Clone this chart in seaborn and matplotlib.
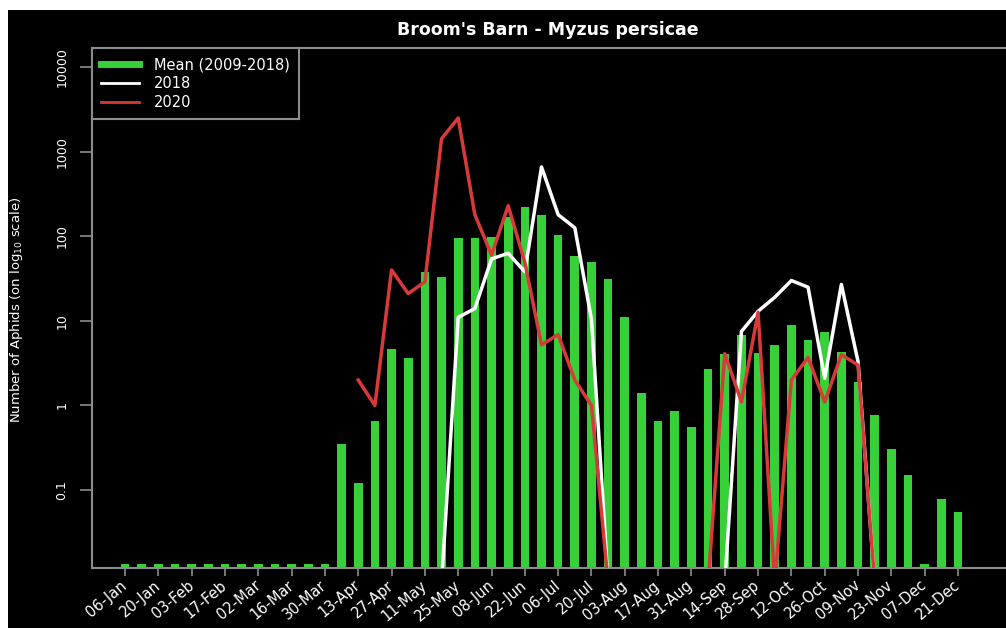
import matplotlib
matplotlib.use("Agg")
import matplotlib.pyplot as plt
import numpy as np
import pandas as pd
import seaborn as sns
from matplotlib.lines import Line2D
from matplotlib.patches import Rectangle
from matplotlib.ticker import FixedLocator, NullLocator

# weekly trap catches
weeks = [
    "06-Jan", "13-Jan", "20-Jan", "27-Jan", "03-Feb", "10-Feb", "17-Feb", "24-Feb",
    "02-Mar", "09-Mar", "16-Mar", "23-Mar", "30-Mar", "06-Apr", "13-Apr", "20-Apr",
    "27-Apr", "04-May", "11-May", "18-May", "25-May", "01-Jun", "08-Jun", "15-Jun",
    "22-Jun", "29-Jun", "06-Jul", "13-Jul", "20-Jul", "27-Jul", "03-Aug", "10-Aug",
    "17-Aug", "24-Aug", "31-Aug", "07-Sep", "14-Sep", "21-Sep", "28-Sep", "05-Oct",
    "12-Oct", "19-Oct", "26-Oct", "02-Nov", "09-Nov", "16-Nov", "23-Nov", "30-Nov",
    "07-Dec", "14-Dec", "21-Dec",
]

mean_2009_2018 = [
    0.0135, 0.0135, 0.0135, 0.0135, 0.0135, 0.0135, 0.0135, 0.0135,
    0.0135, 0.0135, 0.0135, 0.0135, 0.0135, 0.35, 0.12, 0.66,
    4.6, 3.6, 38, 33, 96, 96, 98, 170,
    224, 180, 104, 58, 49, 31, 11, 1.4,
    0.66, 0.87, 0.56, 2.7, 4.1, 6.9, 4.2, 5.2,
    9.0, 5.9, 7.3, 4.3, 1.9, 0.78, 0.31, 0.15,
    0.0135, 0.078, 0.055,
]

counts_2018 = [
    0, 0, 0, 0, 0, 0, 0, 0,
    0, 0, 0, 0, 0, 0, 0, 0,
    0, 0, 0, 0, 11, 14, 54, 63,
    38, 660, 180, 126, 10.4, 0, 0, 0,
    0, 0, 0, 0, 0, 7.5, 13, 19,
    30, 25, 2.1, 27, 3.3, 0, 0, 0,
    0, 0, 0,
]

nan = np.nan
counts_2020 = [
    nan, nan, nan, nan, nan, nan, nan, nan,
    nan, nan, nan, nan, nan, nan, 2.0, 1.0,
    40, 21, 29, 1420, 2500, 180, 60, 230,
    49, 5.2, 6.9, 2.0, 1.0, 0, 0, 0,
    0, 0, 0, 0, 4.1, 1.1, 12.6, 0,
    2.0, 3.7, 1.1, 4.0, 3.0, 0, nan, nan,
    nan, nan, nan,
]

GREEN = "#38d038"
RED = "#d83a3a"
GREY = "#8c8c8c"
YMIN, YMAX = 0.012, 16800
FLOOR = 0.008  # zero catches drawn just below the axis


def main():
    plt.rcParams["font.family"] = ["DejaVu Sans"]

    W, H = 1006, 628
    fig = plt.figure(figsize=(W / 100, H / 100), dpi=100, facecolor="white")
    fig.add_artist(Rectangle((8 / W, 0), 1, (H - 10) / H, transform=fig.transFigure,
                             facecolor="black", edgecolor="none", zorder=-10))
    ax = fig.add_axes([92 / W, (H - 568) / H, (1010 - 92) / W, (568 - 48) / H])
    ax.set_facecolor("black")

    pos = np.arange(len(weeks))
    sns.barplot(x=pos, y=mean_2009_2018, native_scale=True, color=GREEN,
                saturation=1, width=0.52, ax=ax, zorder=2)
    ax.set_yscale("log")

    y18 = np.array(counts_2018, dtype=float)
    y18[y18 == 0] = FLOOR
    y20 = np.array(counts_2020, dtype=float)
    y20[y20 == 0] = FLOOR
    ax.plot(pos, y18, color="white", lw=2.5, zorder=3)
    ax.plot(pos, y20, color=RED, lw=2.5, zorder=4)

    step = 833 / 50
    ax.set_xlim(-33 / step, (1010 - 125) / step)
    ax.set_ylim(YMIN, YMAX)

    ax.xaxis.set_major_locator(FixedLocator(pos[::2]))
    ax.set_xticklabels(weeks[::2])
    ax.tick_params(axis="x", length=6, width=1.2, color=GREY, labelcolor="white",
                   labelsize=10.5, pad=5)
    plt.setp(ax.get_xticklabels(), rotation=40, ha="right", va="center",
             rotation_mode="anchor")

    yt = [0.1, 1, 10, 100, 1000, 10000]
    ax.yaxis.set_major_locator(FixedLocator(yt))
    ax.yaxis.set_minor_locator(NullLocator())
    ax.set_yticklabels(["0.1", "1", "10", "100", "1000", "10000"])
    ax.tick_params(axis="y", length=9, width=1.2, color=GREY, labelcolor="white",
                   labelsize=9, pad=8)
    plt.setp(ax.get_yticklabels(), rotation=90, va="center")
    ax.set_xlabel("")
    ax.set_ylabel("")

    for s in ax.spines.values():
        s.set_color(GREY)
        s.set_linewidth(1.5)

    handles = [
        Line2D([], [], color=GREEN, lw=5),
        Line2D([], [], color="white", lw=2),
        Line2D([], [], color=RED, lw=2),
    ]
    leg = ax.legend(handles, ["Mean (2009-2018)", "2018", "2020"], loc="upper left",
                    bbox_to_anchor=(0, 1), borderaxespad=0, fancybox=False,
                    facecolor="black", edgecolor=GREY, labelcolor="white",
                    fontsize=10.5, handlelength=2.6, handletextpad=1.0,
                    borderpad=0.65, labelspacing=0.25, framealpha=1)
    leg.get_frame().set_linewidth(1.5)
    leg.set_zorder(5)

    fig.text(548 / W, 1 - 30 / H, "Broom's Barn - Myzus persicae", ha="center",
             va="center", fontsize=12.5, fontweight="bold", color="white")
    fig.text(17 / W, (H - 310) / H, r"Number of Aphids (on log$_{10}$ scale)",
             rotation=90, ha="center", va="center", fontsize=9.5, color="white")

    fig.savefig("out.png", dpi=100, facecolor=fig.get_facecolor())


if __name__ == "__main__":
    main()
